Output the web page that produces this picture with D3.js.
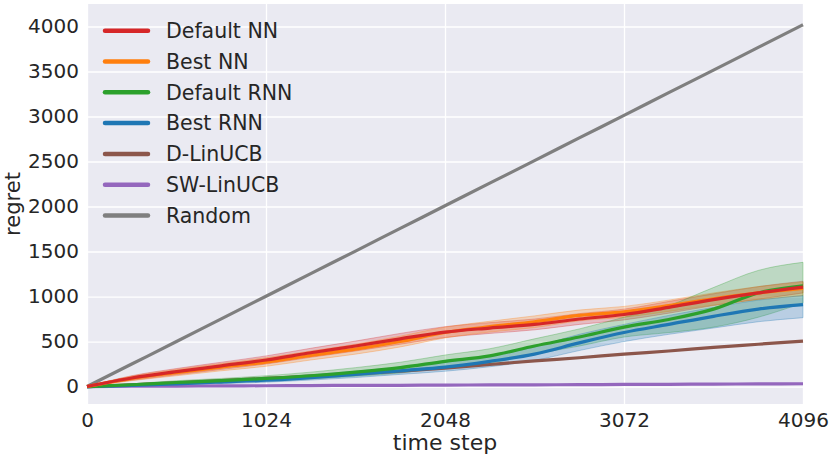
<!DOCTYPE html>
<html>
<head>
<meta charset="utf-8">
<script src="https://cdn.jsdelivr.net/npm/d3@7"></script>
<style>
  body { margin: 0; background: #fff; }
  text { font-family: "DejaVu Sans", sans-serif; fill: #262626; }
</style>
</head>
<body>
<svg></svg>
<script>
// time steps (x values)
const steps = [0, 256, 512, 768, 1024, 1280, 1536, 1792, 2048, 2304, 2560, 2816, 3072, 3328, 3584, 3840, 4096];

// mean regret per series
const defaultNN = [0, 95, 165, 230, 295, 375, 450, 530, 605, 650, 690, 750, 800, 880, 965, 1040, 1105];
const bestNN = [0, 90, 155, 215, 270, 345, 415, 500, 600, 665, 720, 790, 830, 900, 975, 1040, 1090];
const defaultRNN = [0, 20, 45, 65, 90, 120, 160, 210, 280, 340, 450, 550, 660, 745, 860, 1040, 1120];
const bestRNN = [0, 12, 30, 50, 70, 100, 135, 175, 215, 280, 360, 485, 600, 690, 780, 860, 910];
const dLinUCB = [0, 20, 42, 65, 90, 115, 140, 170, 205, 245, 285, 320, 360, 395, 435, 470, 505];
const swLinUCB = [0, 3, 5, 7, 9, 11, 13, 14, 16, 18, 19, 21, 23, 25, 27, 29, 31];
const random = [0, 250, 500, 752, 1003, 1255, 1505, 1757, 2008, 2260, 2510, 2762, 3012, 3265, 3515, 3768, 4020];

// shaded band (upper / lower)
const defaultNNHi = [0, 120, 200, 270, 340, 425, 505, 590, 665, 710, 750, 810, 860, 945, 1030, 1110, 1170];
const defaultNNLo = [0, 70, 130, 190, 250, 325, 395, 470, 545, 590, 630, 690, 740, 815, 900, 970, 1040];
const bestNNHi = [0, 115, 190, 255, 320, 395, 470, 560, 660, 725, 785, 850, 890, 960, 1040, 1110, 1160];
const bestNNLo = [0, 65, 120, 175, 225, 295, 360, 440, 540, 605, 655, 730, 770, 835, 905, 965, 1010];
const defaultRNNHi = [0, 30, 65, 90, 120, 160, 210, 270, 350, 420, 530, 640, 770, 900, 1100, 1290, 1380];
const defaultRNNLo = [0, 12, 30, 45, 65, 85, 115, 150, 210, 260, 360, 450, 550, 600, 660, 770, 930];
const bestRNNHi = [0, 20, 45, 70, 95, 130, 170, 215, 270, 340, 440, 580, 690, 790, 880, 960, 1010];
const bestRNNLo = [0, 5, 18, 32, 48, 72, 100, 135, 170, 220, 290, 400, 500, 580, 650, 720, 765];

const xTicks = [0, 1024, 2048, 3072, 4096];
const yTicks = [0, 500, 1000, 1500, 2000, 2500, 3000, 3500, 4000];

const series = [
  { name: "Default NN", color: "#d62728", mean: defaultNN, hi: defaultNNHi, lo: defaultNNLo },
  { name: "Best NN", color: "#ff7f0e", mean: bestNN, hi: bestNNHi, lo: bestNNLo },
  { name: "Default RNN", color: "#2ca02c", mean: defaultRNN, hi: defaultRNNHi, lo: defaultRNNLo },
  { name: "Best RNN", color: "#1f77b4", mean: bestRNN, hi: bestRNNHi, lo: bestRNNLo },
  { name: "D-LinUCB", color: "#8c564b", mean: dLinUCB },
  { name: "SW-LinUCB", color: "#9467bd", mean: swLinUCB },
  { name: "Random", color: "#7f7f7f", mean: random }
];

const width = 830, height = 457;
const svg = d3.select("svg").attr("width", width).attr("height", height);

const plotLeft = 87, plotRight = 803, plotTop = 4, plotBottom = 404;

const x = d3.scaleLinear().domain([0, 4096]).range([plotLeft, plotRight]);
const y = d3.scaleLinear().domain([-194, 4250]).range([plotBottom, plotTop]);

// background
svg.append("rect")
  .attr("x", plotLeft).attr("y", plotTop)
  .attr("width", plotRight - plotLeft).attr("height", plotBottom - plotTop)
  .attr("fill", "#eaeaf2");

// grid
const gx = svg.append("g").attr("transform", `translate(0,${plotBottom})`)
  .call(d3.axisBottom(x).tickValues(xTicks).tickFormat(d3.format("d")).tickSize(-(plotBottom - plotTop)));
const gy = svg.append("g").attr("transform", `translate(${plotLeft},0)`)
  .call(d3.axisLeft(y).tickValues(yTicks).tickFormat(d3.format("d")).tickSize(-(plotRight - plotLeft)).tickPadding(8));

[gx, gy].forEach(g => {
  g.select(".domain").remove();
  g.selectAll(".tick line").attr("stroke", "#fff").attr("stroke-width", 1.3);
  g.selectAll(".tick text").attr("font-size", "20px").attr("fill", "#262626");
});
gx.selectAll(".tick text").attr("y", 22.5).attr("dy", 0);

const plot = svg.append("g");

const area = d3.area()
  .x((d, i) => x(steps[i]))
  .y0(d => y(d[0]))
  .y1(d => y(d[1]))
  .curve(d3.curveMonotoneX);

const line = d3.line()
  .x((d, i) => x(steps[i]))
  .y(d => y(d))
  .curve(d3.curveMonotoneX);

// bands first
series.filter(s => s.hi).forEach(s => {
  const band = s.lo.map((v, i) => [v, s.hi[i]]);
  plot.append("path")
    .attr("d", area(band))
    .attr("fill", s.color)
    .attr("fill-opacity", 0.24)
    .attr("stroke", s.color)
    .attr("stroke-opacity", 0.4)
    .attr("stroke-width", 0.8);
});

// lines (draw order so red ends on top of orange, etc)
const order = ["D-LinUCB", "SW-LinUCB", "Random", "Best RNN", "Default RNN", "Best NN", "Default NN"];
order.forEach(n => {
  const s = series.find(d => d.name === n);
  plot.append("path")
    .attr("d", line(s.mean))
    .attr("fill", "none")
    .attr("stroke", s.color)
    .attr("stroke-width", 3.2)
    .attr("stroke-linejoin", "round");
});

// axis labels
svg.append("text")
  .attr("x", (plotLeft + plotRight) / 2).attr("y", 450)
  .attr("text-anchor", "middle")
  .attr("font-size", "22px")
  .text("time step");

svg.append("text")
  .attr("transform", `translate(20,${(plotTop + plotBottom) / 2}) rotate(-90)`)
  .attr("text-anchor", "middle")
  .attr("font-size", "21px")
  .text("regret");

// legend
const legend = svg.append("g");
series.forEach((s, i) => {
  const cy = 30.7 + i * 30.8;
  legend.append("line")
    .attr("x1", 105).attr("x2", 148)
    .attr("y1", cy).attr("y2", cy)
    .attr("stroke", s.color)
    .attr("stroke-width", 4.5)
    .attr("stroke-linecap", "round");
  legend.append("text")
    .attr("x", 166).attr("y", cy)
    .attr("dy", "0.36em")
    .attr("font-size", "20.5px")
    .text(s.name);
});
</script>
</body>
</html>
